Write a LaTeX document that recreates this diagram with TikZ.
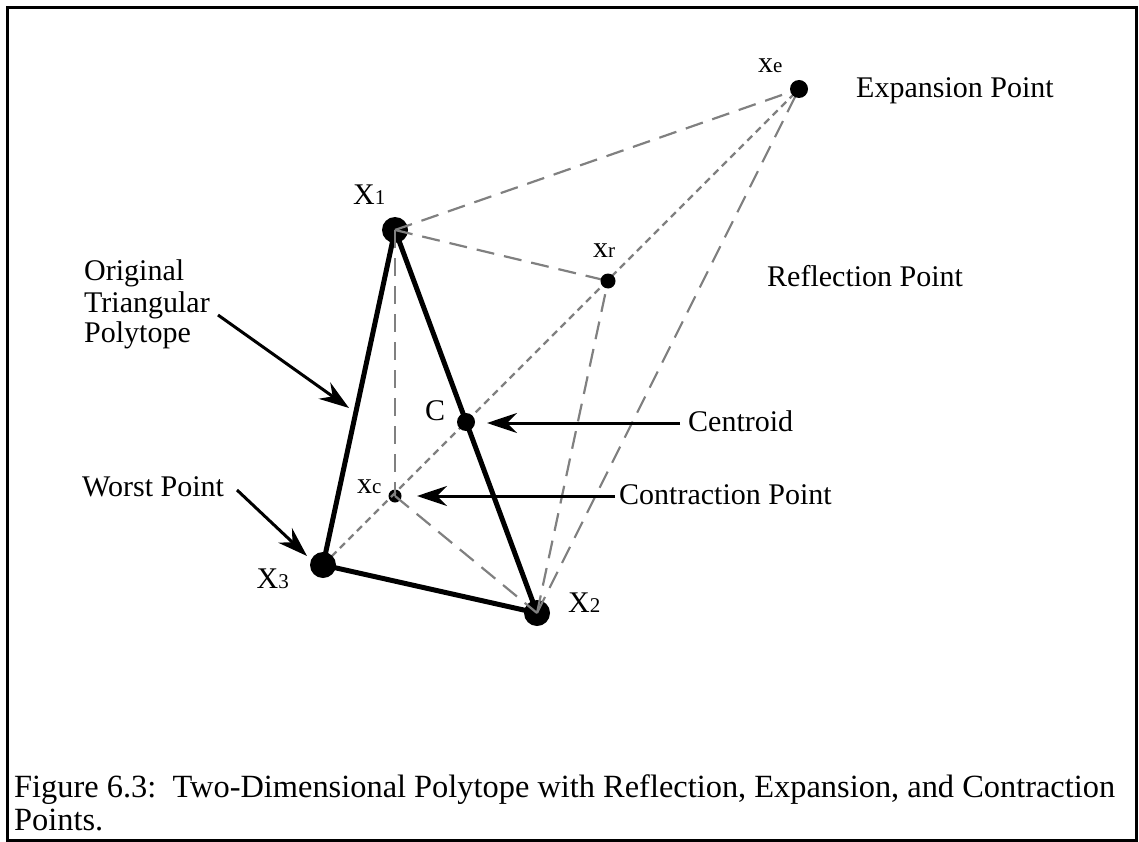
\documentclass[tikz,border=0pt]{standalone}
\usepackage{fontspec}
\setmainfont{Liberation Serif}
\usetikzlibrary{arrows.meta}
\begin{document}
\begin{tikzpicture}[x=1pt,y=-1pt,
  lbl/.style={font=\fontsize{30}{31}\selectfont, inner sep=0pt},
  captxt/.style={font=\fontsize{32.4}{33}\selectfont, inner sep=0pt, anchor=base west},
  dot/.style={circle, fill=black, inner sep=0pt},
  triedge/.style={line width=5pt, line join=round},
  longdash/.style={draw=gray, line width=2.2pt, dash pattern=on 18pt off 10pt},
  shortdash/.style={draw=gray, line width=2.2pt, dash pattern=on 7pt off 5pt},
  pointer/.style={line width=3pt, -{Stealth[length=30pt,width=20pt,inset=10pt]}},
]
\useasboundingbox (0,0) rectangle (1139,842);
\draw[line width=3pt] (7.5,8) rectangle (1136.5,840.5);
% points
\coordinate (X1) at (395,230);
\coordinate (X2) at (537,613);
\coordinate (X3) at (323,565);
\coordinate (C) at (466,422);
\coordinate (xc) at (395,496);
\coordinate (xr) at (608,281);
\coordinate (xe) at (799,89);
% triangle
\draw[triedge] (X1) -- (X2) -- (X3) -- cycle;
% dots under the construction lines
\node[dot, minimum size=26pt] (dX1) at (X1) {};
\node[dot, minimum size=26pt] (dX2) at (X2) {};
\node[dot, minimum size=13pt] (dxc) at (xc) {};
% construction lines
\draw[shortdash] (X3) -- (xe);
\draw[longdash] (dX1.center) -- (xe);
\draw[longdash] (dX1.center) -- (xr);
\draw[longdash] (dX1.center) -- (dxc.center);
\draw[longdash] (dxc.center) -- (dX2.center);
\draw[longdash] (dX2.center) -- (xr);
\draw[longdash] (dX2.center) -- (xe);
% dots over the construction lines
\node[dot, minimum size=26pt] (dX3) at (X3) {};
\node[dot, minimum size=18pt] (dC) at (C) {};
\node[dot, minimum size=15pt] (dxr) at (xr) {};
\node[dot, minimum size=18pt] (dxe) at (xe) {};
% point labels
\node[lbl, anchor=base west] (lX1) at (353,205) {X{\fontsize{21}{22}\selectfont 1}};
\node[lbl, anchor=base west] (lX2) at (568,612) {X{\fontsize{21}{22}\selectfont 2}};
\node[lbl, anchor=base east] (lX3) at (289,588) {X{\fontsize{21}{22}\selectfont 3}};
\node[lbl, anchor=base west] (lC) at (425,420) {C};
\node[lbl, anchor=base west] (lxc) at (357,493) {x{\fontsize{21}{22}\selectfont c}};
\node[lbl, anchor=base west] (lxr) at (593,258) {x{\fontsize{21}{22}\selectfont r}};
\node[lbl, anchor=base west] (lxe) at (758,73) {x{\fontsize{21}{22}\selectfont e}};
% descriptive labels
\node[lbl, anchor=base west] (exp) at (856,98) {Expansion Point};
\node[lbl, anchor=base west] (refl) at (767,286) {Reflection Point};
\node[lbl, anchor=base west] (cent) at (688,431) {Centroid};
\node[lbl, anchor=base west] (contr) at (619,504) {Contraction Point};
\node[lbl, anchor=base west] (orig1) at (84,280) {Original};
\node[lbl, anchor=base west] (orig2) at (84,312) {Triangular};
\node[lbl, anchor=base west] (orig3) at (84,342) {Polytope};
\node[lbl, anchor=base west] (worst) at (82,496) {Worst Point};
% arrows
\coordinate (aO1) at (218,315); \coordinate (aO2) at (349,408);
\coordinate (aW1) at (237,490); \coordinate (aW2) at (307,556);
\coordinate (aC1) at (680,423); \coordinate (aC2) at (487,423);
\coordinate (aX1) at (615,496); \coordinate (aX2) at (417,496);
\draw[pointer] (aO1) -- (aO2);
\draw[pointer] (aW1) -- (aW2);
\draw[pointer] (aC1) -- (aC2);
\draw[pointer] (aX1) -- (aX2);
% caption
\node[captxt] (cap1) at (14,797) {Figure 6.3:\ \ Two-Dimensional Polytope with Reflection, Expansion, and Contraction};
\node[captxt] (cap2) at (14,830) {Points.};
\end{tikzpicture}
\end{document}
